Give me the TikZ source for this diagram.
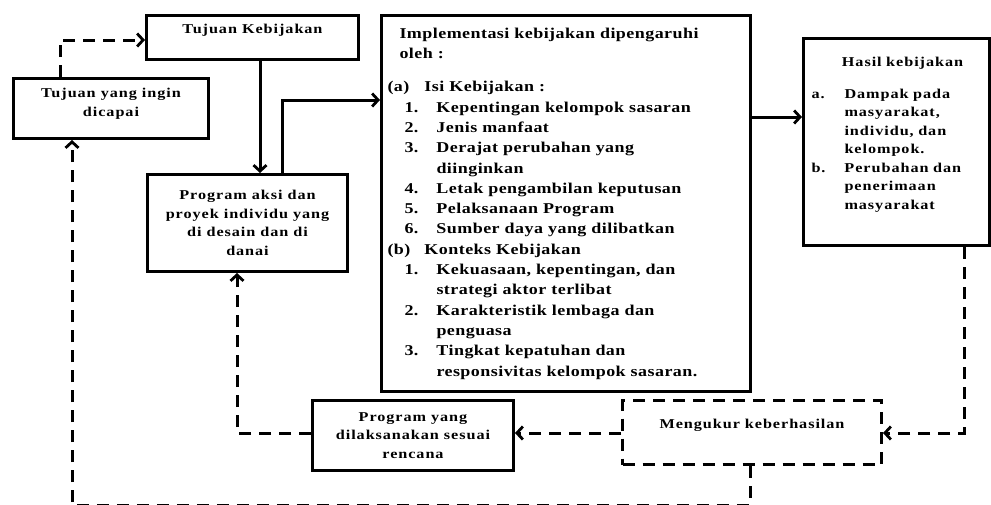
\documentclass[tikz,border=0pt]{standalone}
\usepackage{fontspec}
\setmainfont{Liberation Serif}
\newfontfamily\implfont{Liberation Serif}[FakeStretch=1.2, LetterSpace=3]
\newfontfamily\boxfont{Liberation Serif}[FakeStretch=1.2, LetterSpace=7]
\usetikzlibrary{arrows.meta,calc}
\newcommand{\lvA}[2]{\makebox[37pt][l]{#1}#2}
\newcommand{\lvB}[2]{\hspace*{17pt}\makebox[32pt][l]{#1}#2}
\newcommand{\lvBc}[1]{\hspace*{49pt}#1}
\tikzset{
  box/.style={draw, line width=3pt, inner sep=0pt, align=center, anchor=north west,
    font=\boxfont\bfseries\fontsize{13.5}{18.5}\selectfont},
  dbox/.style={box, dash pattern=on 12pt off 8pt},
  flow/.style={line width=3pt, -{Straight Barb[length=6pt,width=13pt,line width=2.8pt]}},
  dflow/.style={flow, dash pattern=on 12pt off 8pt},
}
\begin{document}
\begin{tikzpicture}[x=1pt,y=-1pt]
\useasboundingbox (0,0) rectangle (991,504);
\node[box, minimum width=212pt, minimum height=44pt] (tk) at (145,14) {Tujuan Kebijakan\\[-2pt]\mbox{}};
\node[box, minimum width=195pt, minimum height=60pt] (tyi) at (12,77) {Tujuan yang ingin\\dicapai\\[-6pt]\mbox{}};
\node[box, minimum width=200pt, minimum height=97pt] (pa) at (146,173) {Program aksi dan\\proyek individu yang\\di desain dan di\\danai};
\node[box, align=left, inner sep=6pt, text width=357pt, minimum height=376pt,
  font=\implfont\bfseries\fontsize{15}{20.3}\selectfont] (impl) at (380,14) {%
\hspace*{12pt}Implementasi kebijakan dipengaruhi\\
\hspace*{12pt}oleh :\\[13pt]
\lvA{(a)}{Isi Kebijakan :}\\
\lvB{1.}{Kepentingan kelompok sasaran}\\
\lvB{2.}{Jenis manfaat}\\
\lvB{3.}{Derajat perubahan yang}\\
\lvBc{diinginkan}\\
\lvB{4.}{Letak pengambilan keputusan}\\
\lvB{5.}{Pelaksanaan Program}\\
\lvB{6.}{Sumber daya yang dilibatkan}\\
\lvA{(b)}{Konteks Kebijakan}\\
\lvB{1.}{Kekuasaan, kepentingan, dan}\\
\lvBc{strategi aktor terlibat}\\
\lvB{2.}{Karakteristik lembaga dan}\\
\lvBc{penguasa}\\
\lvB{3.}{Tingkat kepatuhan dan}\\
\lvBc{responsivitas kelompok sasaran.}};
\node[box, align=left, inner sep=8pt, text width=170pt, minimum height=207pt] (hasil) at (802,37) {%
\makebox[170pt]{\hspace{12pt}Hasil kebijakan}\\[13pt]
\makebox[33pt][l]{a.}Dampak pada\\
\hspace*{33pt}masyarakat,\\
\hspace*{33pt}individu, dan\\
\hspace*{33pt}kelompok.\\
\makebox[33pt][l]{b.}Perubahan dan\\
\hspace*{33pt}penerimaan\\
\hspace*{33pt}masyarakat\\[-1.5pt]\mbox{}};
\node[dbox, minimum width=259pt, minimum height=64pt] (ukur) at (621,399) {Mengukur keberhasilan\\[-2pt]\mbox{}};
\node[box, minimum width=201pt, minimum height=70pt] (pyd) at (311,399) {Program yang\\dilaksanakan sesuai\\rencana};
% solid flow
\path[draw,flow] (tk.south -| 260,0) -- (pa.north -| 260,0);
\path[draw,flow] (pa.north -| 282,0) |- (impl.west |- 0,100);
\path[draw,flow] (impl.east |- 0,117) -- (hasil.west |- 0,117);
% dashed feedback
\path[draw,dflow] (tyi.north -| 60,0) |- (tk.west |- 0,40);
\path[draw,dflow] (hasil.south -| 964,0) |- (ukur.east |- 0,433);
\path[draw,dflow] (ukur.west |- 0,433) -- (pyd.east |- 0,433);
\path[draw,dflow] (pyd.west |- 0,433) -| (pa.south -| 237,0);
\path[draw,dflow] (ukur.south -| 750,0) -- ++(0,39) -| (tyi.south -| 72,0);
\end{tikzpicture}
\end{document}
